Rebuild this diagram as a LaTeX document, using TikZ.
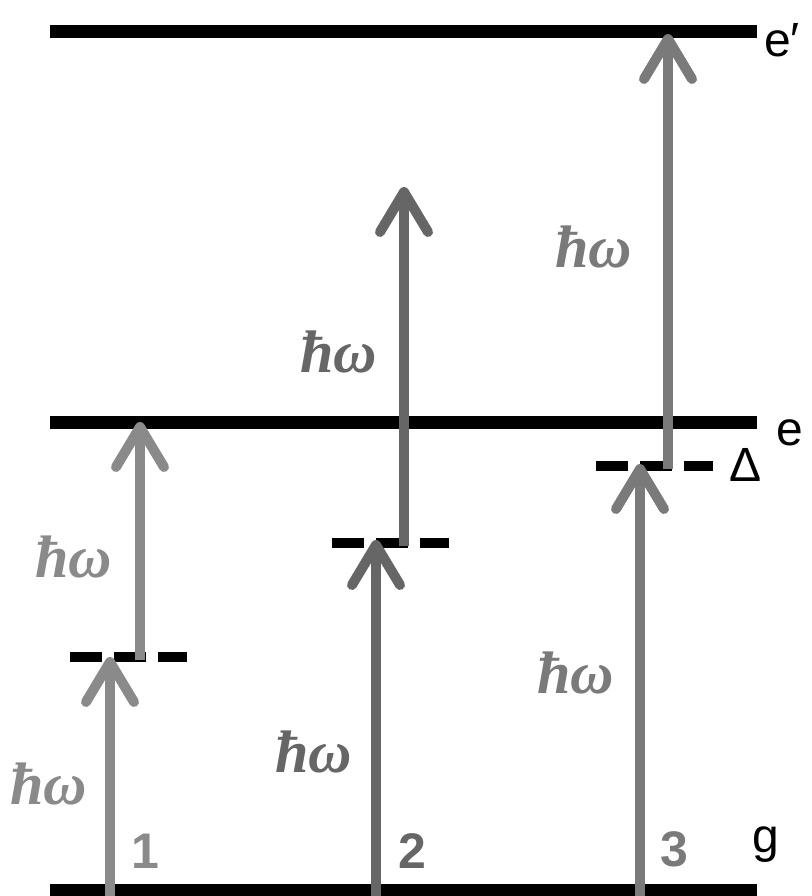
\documentclass[tikz,border=0pt]{standalone}
\usepackage{fontspec}
\setsansfont{Liberation Sans}
\newfontfamily\hwfont{Liberation Serif}
\usetikzlibrary{arrows.meta}
\definecolor{gA}{HTML}{8A8A8A}
\definecolor{gB}{HTML}{666666}
\definecolor{gC}{HTML}{7A7A7A}
\begin{document}
\begin{tikzpicture}[x=1pt,y=-1pt,
  level/.style={line width=13pt,black},
  virt/.style={line width=10pt,black,dash pattern=on 32pt off 12pt},
  photon/.style={line width=10pt,-{Straight Barb[length=40pt,width=48pt,round]}},
  hw/.style={font=\hwfont\bfseries\itshape\fontsize{60}{64}\selectfont,anchor=base west,inner sep=0pt},
  lvl/.style={font=\sffamily\fontsize{48}{54}\selectfont,anchor=west,inner sep=0pt},
  num/.style={font=\sffamily\bfseries\fontsize{50}{56}\selectfont,inner sep=0pt},
]
\useasboundingbox (0,0) rectangle (811,896);
% levels
\coordinate (epL) at (50,32);  \coordinate (epR) at (757,32);
\coordinate (eL) at (50,422);  \coordinate (eR) at (757,422);
\coordinate (gL) at (50,890);  \coordinate (gR) at (757,890);
\draw[level] (epL) -- (epR);
\draw[level] (eL) -- (eR);
\draw[level] (gL) -- (gR);
% virtual levels
\coordinate (v1L) at (70,657);  \coordinate (v1R) at (187,657);
\coordinate (v2L) at (332,543); \coordinate (v2R) at (449,543);
\coordinate (v3L) at (596,466); \coordinate (v3R) at (713,466);
\draw[virt] (v1L) -- (v1R);
\draw[virt] (v2L) -- (v2R);
\draw[virt] (v3L) -- (v3R);
% arrow endpoints
\coordinate (a1s) at (110,896); \coordinate (a1e) at (110,657);
\coordinate (b1s) at (140,660); \coordinate (b1e) at (140,422);
\coordinate (a2s) at (376,896); \coordinate (a2e) at (376,540);
\coordinate (b2s) at (404,546); \coordinate (b2e) at (404,187);
\coordinate (a3s) at (640,896); \coordinate (a3e) at (640,464);
\coordinate (b3s) at (668,469); \coordinate (b3e) at (668,34);
\draw[photon,gA] (a1s) -- (a1e);
\draw[photon,gA] (b1s) -- (b1e);
\draw[photon,gB] (a2s) -- (a2e);
\draw[photon,gB] (b2s) -- (b2e);
\draw[photon,gC] (a3s) -- (a3e);
\draw[photon,gC] (b3s) -- (b3e);
% photon labels
\node[hw,text=gA] (h1a) at (10,804) {ħω};
\node[hw,text=gA] (h1b) at (35,577) {ħω};
\node[hw,text=gB] (h2a) at (275,772) {ħω};
\node[hw,text=gB] (h2b) at (300,372) {ħω};
\node[hw,text=gC] (h3a) at (537,693) {ħω};
\node[hw,text=gC] (h3b) at (555,267) {ħω};
% level labels
\node[lvl] (lep) at (764,40) {e′};
\node[lvl] (le) at (776,433) {e};
\node[lvl] (lg) at (752,845) {g};
\node[font=\sffamily\fontsize{48}{52}\selectfont,inner sep=0pt] (ld) at (746,465) {Δ};
% path numbers
\node[num,text=gA] (n1) at (145,851) {1};
\node[num,text=gB] (n2) at (412,851) {2};
\node[num,text=gC] (n3) at (674,849) {3};
\end{tikzpicture}
\end{document}
